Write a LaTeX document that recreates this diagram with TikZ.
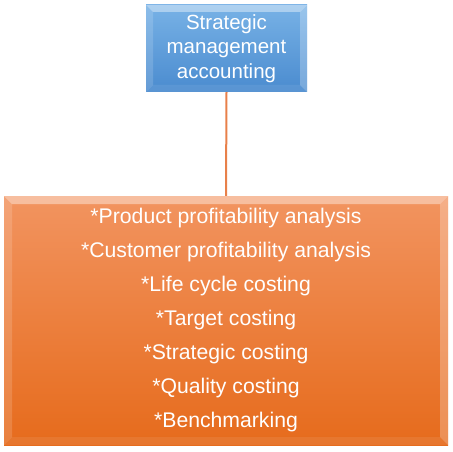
\documentclass[tikz,border=0pt]{standalone}
\usepackage{fontspec}
\setmainfont{Liberation Sans}
\definecolor{bluetop}{HTML}{78B2E6}
\definecolor{bluebot}{HTML}{4A8BCF}
\definecolor{orgtop}{HTML}{F29460}
\definecolor{orgbot}{HTML}{E66B1C}
\definecolor{linkorange}{HTML}{E8804A}
\tikzset{
  bevel/.style={path picture={
    \fill[white,opacity=0.4] (path picture bounding box.north west) -- (path picture bounding box.north east)
      -- ([shift={(-#1,-#1)}]path picture bounding box.north east) -- ([shift={(#1,-#1)}]path picture bounding box.north west) -- cycle;
    \fill[white,opacity=0.15] (path picture bounding box.north west) -- ([shift={(#1,-#1)}]path picture bounding box.north west)
      -- ([shift={(#1,#1)}]path picture bounding box.south west) -- (path picture bounding box.south west) -- cycle;
    \fill[white,opacity=0.25] (path picture bounding box.north east) -- ([shift={(-#1,-#1)}]path picture bounding box.north east)
      -- ([shift={(-#1,#1)}]path picture bounding box.south east) -- (path picture bounding box.south east) -- cycle;
    \fill[white,opacity=0.08] (path picture bounding box.south west) -- ([shift={(#1,#1)}]path picture bounding box.south west)
      -- ([shift={(-#1,#1)}]path picture bounding box.south east) -- (path picture bounding box.south east) -- cycle;
  }},
  bluebox/.style={rectangle, inner sep=0pt, minimum width=161pt, minimum height=87pt,
    top color=bluetop, bottom color=bluebot, text=white, align=center,
    font=\fontsize{20.5}{24.5}\selectfont, bevel=7},
  orangebox/.style={rectangle, inner sep=0pt, minimum width=444pt, minimum height=249pt,
    top color=orgtop, bottom color=orgbot, text=white, align=center,
    font=\fontsize{21.2}{34}\selectfont, bevel=8},
  conn/.style={draw=linkorange, line width=2pt}
}
\begin{document}
\begin{tikzpicture}[x=1pt,y=1pt]
\useasboundingbox (0,0) rectangle (453,451);
\node[bluebox] (top) at (226.5,402.5) {Strategic\\management\\accounting};
\node[orangebox] (list) at (226,130.5) {*Product profitability analysis\\*Customer profitability analysis\\*Life cycle costing\\*Target costing\\*Strategic costing\\*Quality costing\\*Benchmarking};
\draw[conn] (top.south) -- (list.north);
\end{tikzpicture}
\end{document}
